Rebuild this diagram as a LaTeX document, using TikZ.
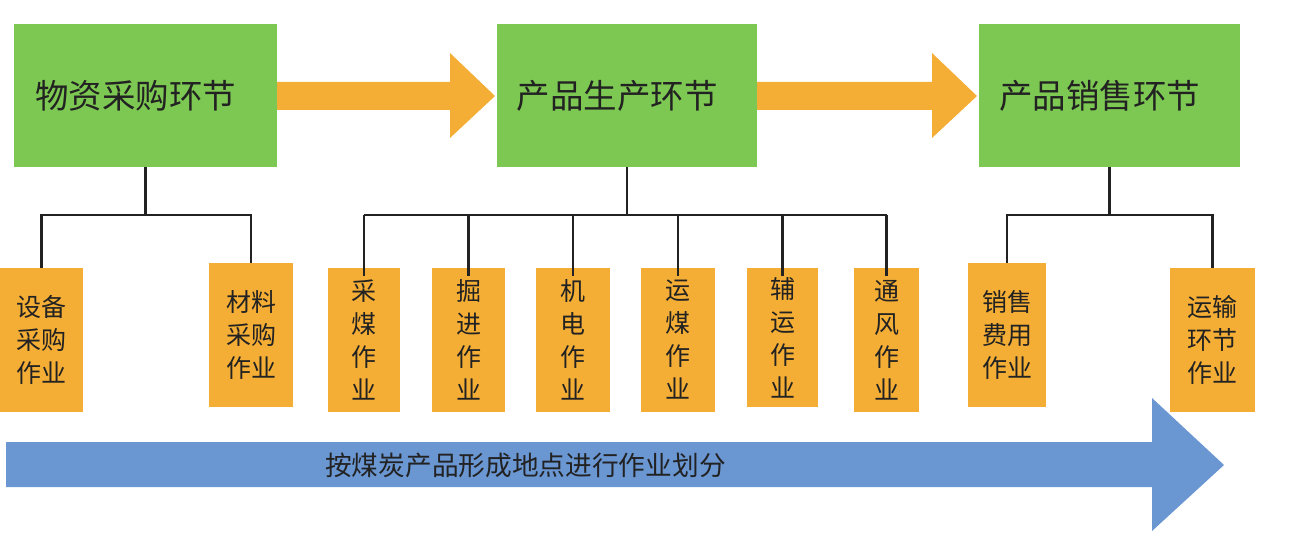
\documentclass[tikz,border=0pt]{standalone}
\usepackage{fontspec}
\newfontfamily\cjk{Noto Sans CJK SC}
\definecolor{boxgreen}{HTML}{7DC852}
\definecolor{boxorange}{HTML}{F4AE35}
\definecolor{arrowblue}{HTML}{6A96D2}
\definecolor{inkdark}{HTML}{222222}
\begin{document}
\begin{tikzpicture}[x=1pt,y=-1pt,
  stage/.style={fill=boxgreen,draw=none,minimum height=143pt,inner sep=0pt,
    text=inkdark,font=\cjk\fontsize{33.5}{40}\selectfont},
  task/.style={fill=boxorange,draw=none,minimum height=144pt,inner sep=0pt,
    align=center,text=inkdark,font=\cjk\fontsize{25}{33}\selectfont},
  link/.style={draw=inkdark,line width=2.2pt},
  fatarrow/.style={fill=boxorange,draw=none}]
\useasboundingbox (0,0) rectangle (1297,537);
% stages
\node[stage,minimum width=263pt] (b1) at (145.5,95.5) {\hspace*{-20pt}物资采购环节};
\node[stage,minimum width=260pt] (b2) at (627,95.5) {\hspace*{-20pt}产品生产环节};
\node[stage,minimum width=261pt] (b3) at (1109.5,95.5) {\hspace*{-20pt}产品销售环节};
% orange arrows
\fill[boxorange] (b1.east |- 0,82) -- (450,82) -- (450,53) -- (495,96) -- (450,138) -- (450,110) -- (b1.east |- 0,110) -- cycle;
\fill[boxorange] (b2.east |- 0,82) -- (932,82) -- (932,53) -- (977,96) -- (932,138) -- (932,110) -- (b2.east |- 0,110) -- cycle;
% tasks
\node[task,minimum width=83pt] (s1) at (41.5,340) {设备\\采购\\作业};
\node[task,minimum width=84pt] (s2) at (251,335) {材料\\采购\\作业};
\node[task,minimum width=72pt] (p1) at (364,340) {采\\煤\\作\\业};
\node[task,minimum width=73pt] (p2) at (468.5,340) {掘\\进\\作\\业};
\node[task,minimum width=74pt] (p3) at (573,340) {机\\电\\作\\业};
\node[task,minimum width=74pt] (p4) at (678,340) {运\\煤\\作\\业};
\node[task,minimum width=71pt,minimum height=139pt] (p5) at (782.5,337.5) {辅\\运\\作\\业};
\node[task,minimum width=65pt] (p6) at (886.5,340) {通\\风\\作\\业};
\node[task,minimum width=78pt] (t1) at (1007,335) {销售\\费用\\作业};
\node[task,minimum width=85pt] (t2) at (1212.5,340) {运输\\环节\\作业};
% connectors
\coordinate (j1) at (145.5,215);
\coordinate (j2) at (627,215);
\coordinate (j3) at (1109.5,215);
\draw[link] (b1.south) -- (j1);
\draw[link] (s1.north) |- (j1) -| (s2.north);
\draw[link] (b2.south) -- (j2);
\draw[link] (p1.north |- j2) -- (p6.north |- j2);
\foreach \n in {p1,p2,p3,p4,p5,p6} {\draw[link] (\n.north |- j2) -- ([yshift=-8pt]\n.north);}
\draw[link] (b3.south) -- (j3);
\draw[link] (t1.north) |- (j3) -| (t2.north);
% blue arrow
\fill[arrowblue] (6,442) -- (1152,442) -- (1152,398) -- (1224,465) -- (1152,531) -- (1152,487) -- (6,487) -- cycle;
\node[text=inkdark,font=\cjk\fontsize{26.7}{30}\selectfont,inner sep=0pt] (lbl) at (525.5,465) {按煤炭产品形成地点进行作业划分};
\end{tikzpicture}
\end{document}
